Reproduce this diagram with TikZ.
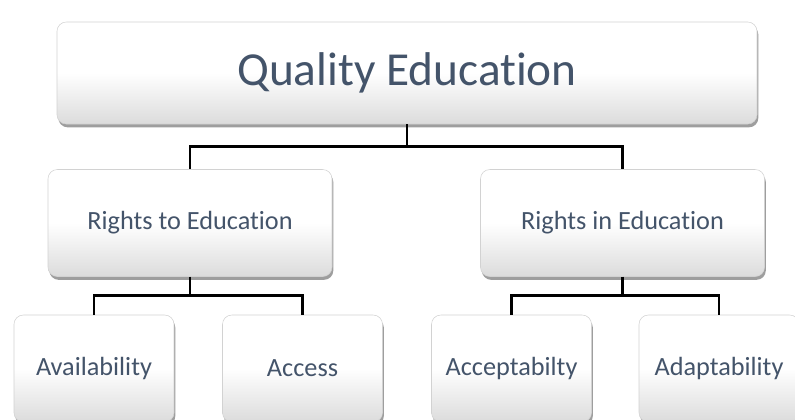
\documentclass[tikz,border=0pt]{standalone}
\usepackage{fontspec}
\setmainfont[Ligatures=NoCommon]{Carlito}
\usetikzlibrary{shadows}

\definecolor{boxtext}{RGB}{68,84,106}
\definecolor{boxline}{RGB}{210,210,210}

\tikzset{every picture/.style={line width=0.75pt}}
\tikzset{
  qbox/.style={draw=boxline, line width=0.4pt, rounded corners=7pt, inner sep=0pt,
    top color=white, bottom color=black!14, middle color=white,
    text=boxtext, align=center,
    drop shadow={shadow xshift=1pt, shadow yshift=-2.5pt, opacity=0.38, fill=black}},
  toplevel/.style={qbox, minimum width=525pt, minimum height=76.5pt, font=\fontsize{35.5}{42}\selectfont},
  midlevel/.style={qbox, minimum width=213pt, minimum height=80.25pt, font=\fontsize{19.7}{24}\selectfont},
  lowlevel/.style={qbox, minimum width=120pt, minimum height=80.25pt, font=\fontsize{19.7}{24}\selectfont},
  link/.style={draw=black, line width=2pt}
}

\begin{document}
\begin{tikzpicture}[x=0.75pt,y=0.75pt,yscale=-1,xscale=1]
\useasboundingbox (0,0) rectangle (795,419);

% Rounded Rect
\node [toplevel] (quality) at (407,73) {\raisebox{3pt}{Quality Education}};
% Rounded Rect
\node [midlevel] (rightsto) at (190,223) {Rights to Education};
% Rounded Rect
\node [midlevel] (rightsin) at (622.5,223) {Rights in Education};
% Rounded Rect
\node [lowlevel] (avail) at (94,368.5) {Availability};
% Rounded Rect
\node [lowlevel] (access) at (302.5,368.5) {Access};
% Rounded Rect
\node [lowlevel] (accept) at (511.5,368.5) {Acceptabilty};
% Rounded Rect
\node [lowlevel] (adapt) at (719,368.5) {Adaptability};

%Straight Lines
\draw [link] (quality.south) -- ++(0,22) -| (rightsto.north);
\draw [link] (quality.south) -- ++(0,22) -| (rightsin.north);
%Straight Lines
\draw [link] (rightsto.south) -- ++(0,19) -| (avail.north);
\draw [link] (rightsto.south) -- ++(0,19) -| (access.north);
%Straight Lines
\draw [link] (rightsin.south) -- ++(0,19) -| (accept.north);
\draw [link] (rightsin.south) -- ++(0,19) -| (adapt.north);

\end{tikzpicture}
\end{document}
